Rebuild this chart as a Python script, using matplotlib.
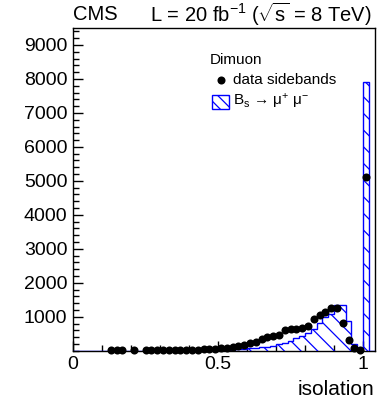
import numpy as np
import matplotlib
matplotlib.use('Agg')
import matplotlib.pyplot as plt
from matplotlib.ticker import MultipleLocator
from matplotlib.patches import Rectangle

plt.rcParams['font.family'] = ['Liberation Sans', 'DejaVu Sans']
plt.rcParams['mathtext.fontset'] = 'custom'
plt.rcParams['mathtext.rm'] = 'Liberation Sans'
plt.rcParams['mathtext.it'] = 'Liberation Sans:italic'
plt.rcParams['hatch.linewidth'] = 0.9

# histogram binning (0.02 wide bins from 0 to 1.04)
bin_edges = np.linspace(0.0, 1.04, 53)

# B_s -> mu mu signal, one value per bin
signal_counts = [0, 0, 0, 0, 0, 0, 0, 0, 0, 0,
                 0, 0, 0, 0, 0, 0, 0, 0, 0, 0,
                 4, 6, 8, 11, 15, 20, 26, 33, 42, 52,
                 65, 80, 95, 115, 150, 200, 235, 290, 360, 430,
                 510, 650, 830, 980, 1080, 1340, 1340, 880, 200, 40,
                 7900, 0]

# data sidebands (bin centres, counts)
data_iso = [0.13, 0.15, 0.17, 0.21, 0.25, 0.27, 0.29, 0.31, 0.33, 0.35,
            0.37, 0.39, 0.41, 0.43, 0.45, 0.47, 0.49, 0.51, 0.53, 0.55,
            0.57, 0.59, 0.61, 0.63, 0.65, 0.67, 0.69, 0.71, 0.73, 0.75,
            0.77, 0.79, 0.81, 0.83, 0.85, 0.87, 0.89, 0.91, 0.93, 0.95,
            0.97, 0.99, 1.01]
data_counts = [12, 12, 12, 12, 14, 14, 15, 16, 18, 20,
               22, 25, 28, 34, 42, 52, 62, 75, 92, 115,
               145, 180, 225, 270, 330, 390, 430, 460, 600, 630,
               650, 680, 740, 930, 1050, 1130, 1250, 1250, 820, 310,
               70, 20, 5100]

W, H = 380, 403
fig = plt.figure(figsize=(W / 100, H / 100), dpi=100)
ax = fig.add_axes([73 / W, 1 - 350.7 / H, (374.6 - 73) / W, (350.7 - 28) / H])

blue = '#0000ff'
ax.stairs(signal_counts, bin_edges, fill=True, facecolor='none',
          edgecolor=blue, hatch='\\\\', linewidth=1.0, zorder=2.6)
ax.plot(data_iso, data_counts, 'o', color='black', ms=5.8, mew=0, zorder=3,
        clip_on=False)

ax.set_xlim(0, 1.04)
ax.set_ylim(0, 9500)
ax.set_xticks([0, 0.5, 1])
ax.set_xticklabels(['0', '0.5', '1'])
ax.xaxis.set_minor_locator(MultipleLocator(0.1))
ax.set_yticks(range(1000, 10000, 1000))
ax.yaxis.set_minor_locator(MultipleLocator(200))
ax.tick_params(which='both', direction='in', top=False, right=False,
               labelsize=14, pad=4, width=1)
ax.tick_params(which='major', length=7)
ax.tick_params(which='minor', length=4)
for s in ax.spines.values():
    s.set_linewidth(1)

ax.set_xlabel('isolation', fontsize=15, loc='right', labelpad=5)

fig.text(73 / W, 1 - 14 / H, 'CMS', fontsize=14.5, va='center', ha='left')
fig.text(372 / W, 1 - 14 / H,
         r'L = 20 fb$^{-1}$ ($\sqrt{\mathrm{s}}$ = 8 TeV)',
         fontsize=14.5, va='center', ha='right')

# legend
fig.text(210 / W, 1 - 60 / H, 'Dimuon', fontsize=11, va='center', ha='left')
fig.lines.append(plt.Line2D([221 / W], [1 - 80 / H], marker='o', color='black',
                            ms=5.8, mew=0, transform=fig.transFigure))
fig.text(233 / W, 1 - 80 / H, 'data sidebands', fontsize=11, va='center', ha='left')
fig.patches.append(Rectangle((211.5 / W, 1 - 109 / H), 17.5 / W, 14 / H,
                             facecolor='none', edgecolor=blue, hatch='\\\\\\',
                             linewidth=1.0, transform=fig.transFigure))
fig.text(233 / W, 1 - 101 / H, r'B$_{\mathrm{s}}$ → μ$^{+}$ μ$^{-}$',
         fontsize=11, va='center', ha='left')

fig.savefig('out.png', dpi=100)
